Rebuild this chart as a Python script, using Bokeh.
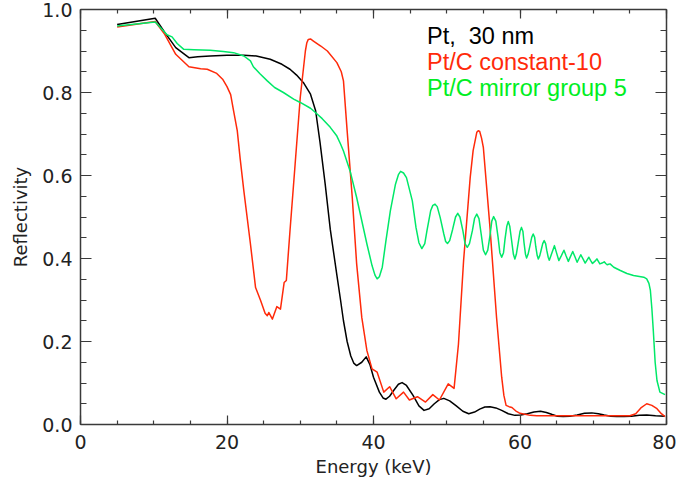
from bokeh.plotting import figure
from bokeh.models import (Range1d, LinearAxis, SingleIntervalTicker, CustomJSTickFormatter,
                          NumeralTickFormatter, Label)
from bokeh.embed import file_html
from bokeh.resources import INLINE

# ---------------- data ----------------
pt_energy = [5, 10.2, 11.5, 13, 14.8, 16, 17.7, 20, 22.3, 24, 25.9, 27.5, 28.6, 29.5, 30.5,
             31.4, 32.1, 32.7, 33.4, 34.1, 35.0, 35.5, 35.9, 36.4, 36.9, 37.3, 37.7, 38.4,
             39.0, 39.5, 40.0, 40.8, 41.3, 41.7, 42.2, 42.8, 43.4, 43.9, 44.5, 45.4, 46.2,
             46.9, 47.6, 48.3, 49.0, 49.6, 50.4, 51.3, 52.2, 53.0, 53.8, 54.5, 55.2, 55.9,
             56.7, 57.5, 58.4, 59.3, 60.1, 61.0, 61.9, 62.8, 63.6, 64.4, 65.1, 65.9, 66.8,
             67.8, 68.8, 69.8, 70.7, 71.5, 72.4, 73.2, 74.2, 75.2, 76.3, 77.3, 78.5, 79.8]
pt_refl = [0.964, 0.979, 0.945, 0.908, 0.884, 0.886, 0.888, 0.890, 0.890, 0.888, 0.880,
           0.868, 0.856, 0.842, 0.822, 0.796, 0.756, 0.680, 0.580, 0.470, 0.360, 0.300,
           0.250, 0.200, 0.165, 0.148, 0.142, 0.150, 0.163, 0.145, 0.114, 0.078, 0.064,
           0.061, 0.068, 0.083, 0.097, 0.101, 0.094, 0.070, 0.045, 0.034, 0.038, 0.050,
           0.060, 0.063, 0.057, 0.045, 0.032, 0.026, 0.030, 0.037, 0.042, 0.043, 0.040,
           0.034, 0.026, 0.022, 0.023, 0.026, 0.030, 0.032, 0.029, 0.024, 0.020, 0.019,
           0.020, 0.023, 0.027, 0.028, 0.026, 0.023, 0.020, 0.019, 0.019, 0.020, 0.022,
           0.023, 0.021, 0.020]

const_energy = [5, 10.2, 11.5, 13, 14.8, 16.4, 17.3, 18.6, 19.4, 20.0, 20.5, 20.9, 21.4,
                21.8, 22.3, 23.2, 23.9, 24.6, 25.2, 25.5, 25.7, 26.2, 26.8, 27.3, 27.8,
                28.1, 28.6, 29.3, 30.0, 30.7, 30.9, 31.1, 31.4, 31.8, 32.8, 33.7, 35.0,
                35.6, 35.9, 36.4, 37.1, 37.7, 38.4, 39.1, 39.8, 40.5, 41.4, 42.2, 43.1,
                44.1, 44.9, 46.0, 47.1, 48.1, 49.0, 50.2, 51.0, 51.6, 52.3, 53.2, 53.6,
                54.1, 54.3, 54.5, 54.75, 55.0, 55.9, 56.8, 57.5, 57.8, 58.1, 58.5, 58.9,
                59.4, 60.0, 61.4, 62.3, 75.0, 75.8, 76.5, 77.3, 78.0, 78.7, 79.3, 79.8]
const_refl = [0.958, 0.971, 0.940, 0.892, 0.862, 0.857, 0.856, 0.846, 0.832, 0.814, 0.795,
              0.756, 0.708, 0.640, 0.563, 0.435, 0.330, 0.298, 0.268, 0.262, 0.270, 0.254,
              0.284, 0.278, 0.342, 0.347, 0.467, 0.627, 0.788, 0.900, 0.920, 0.928, 0.929,
              0.924, 0.912, 0.900, 0.872, 0.850, 0.828, 0.708, 0.547, 0.387, 0.258, 0.178,
              0.134, 0.126, 0.078, 0.091, 0.062, 0.078, 0.059, 0.067, 0.054, 0.072, 0.059,
              0.098, 0.087, 0.194, 0.395, 0.595, 0.660, 0.704, 0.708, 0.706, 0.690, 0.667,
              0.475, 0.258, 0.114, 0.070, 0.046, 0.043, 0.041, 0.033, 0.027, 0.022, 0.021,
              0.021, 0.026, 0.040, 0.050, 0.046, 0.038, 0.026, 0.019]

mirror_energy = [5, 10.2, 11.0, 11.8, 12.5, 13.2, 14.1, 15.5, 17.7, 19.5, 20.9, 22.3, 23.2,
                 23.6, 24.5, 25.5, 26.5, 27.7, 29.1, 30.0, 31.4, 31.8, 33.0, 34.1, 35.0,
                 35.5, 35.9, 36.8, 37.7, 38.4, 39.1, 39.8, 40.2, 40.5, 40.8, 41.2, 41.7,
                 42.3, 43.0, 43.4, 43.7, 44.1, 44.5, 45.3, 45.8, 46.2, 46.6, 47.0, 47.3,
                 47.8, 48.1, 48.4, 48.7, 49.1, 49.6, 49.85, 50.1, 50.4, 50.8, 51.2, 51.5,
                 51.8, 52.2, 52.5, 52.8, 53.1, 53.5, 53.8, 54.1, 54.4, 54.7, 55.0, 55.3,
                 55.6, 55.9, 56.15, 56.4, 56.7, 57.0, 57.25, 57.5, 57.75, 57.95, 58.2, 58.4,
                 58.6, 58.85, 59.1, 59.3, 59.5, 59.75, 60.0, 60.2, 60.4, 60.55, 60.75, 60.9,
                 61.1, 61.35, 61.6, 61.8, 62.0, 62.15, 62.35, 62.5, 62.7, 62.9, 63.1, 63.3,
                 63.5, 63.65, 63.85, 64.0, 64.35, 64.7, 65.0, 65.3, 65.65, 66.0, 66.3, 66.6,
                 66.9, 67.2, 67.5, 67.8, 68.05, 68.3, 68.6, 68.9, 69.15, 69.4, 69.65, 69.9,
                 70.2, 70.5, 70.7, 70.9, 71.2, 71.5, 71.7, 71.9, 72.1, 72.3, 72.8, 73.7,
                 74.6, 75.5, 76.9, 77.3, 77.6, 77.8, 78.0, 78.2, 78.45, 78.7, 79.1, 79.8]
mirror_refl = [0.960, 0.970, 0.955, 0.939, 0.934, 0.918, 0.904, 0.903, 0.902, 0.899, 0.896,
               0.888, 0.876, 0.862, 0.845, 0.828, 0.812, 0.800, 0.784, 0.776, 0.762, 0.756,
               0.737, 0.716, 0.695, 0.676, 0.659, 0.611, 0.547, 0.491, 0.435, 0.383, 0.360,
               0.351, 0.356, 0.379, 0.443, 0.515, 0.579, 0.602, 0.610, 0.606, 0.595, 0.539,
               0.475, 0.438, 0.424, 0.436, 0.467, 0.515, 0.528, 0.531, 0.525, 0.499, 0.459,
               0.441, 0.436, 0.443, 0.470, 0.500, 0.509, 0.500, 0.467, 0.436, 0.427, 0.436,
               0.467, 0.497, 0.507, 0.496, 0.459, 0.420, 0.409, 0.420, 0.455, 0.490, 0.501,
               0.490, 0.452, 0.414, 0.403, 0.414, 0.446, 0.478, 0.489, 0.478, 0.444, 0.410,
               0.399, 0.410, 0.437, 0.465, 0.475, 0.465, 0.438, 0.410, 0.401, 0.410, 0.430,
               0.451, 0.459, 0.451, 0.429, 0.407, 0.399, 0.407, 0.421, 0.436, 0.443, 0.436,
               0.420, 0.403, 0.396, 0.413, 0.431, 0.413, 0.395, 0.407, 0.420, 0.406, 0.393,
               0.405, 0.417, 0.404, 0.391, 0.400, 0.409, 0.399, 0.389, 0.396, 0.403, 0.395,
               0.388, 0.393, 0.399, 0.393, 0.387, 0.389, 0.392, 0.388, 0.385, 0.386, 0.387,
               0.379, 0.371, 0.364, 0.359, 0.355, 0.351, 0.340, 0.323, 0.280, 0.226, 0.150,
               0.106, 0.078, 0.072]

series_names = ["Pt,\u00a0 30 nm", "Pt/C constant-10", "Pt/C mirror group 5"]
series_colors = ["#000000", "#ff2a0a", "#00e868"]
text_colors = ["#000000", "#ff2a0a", "#00ee22"]

# ---------------- figure ----------------
AX = "#3a3a3a"
p = figure(width=676, height=480, output_backend="svg", toolbar_location=None,
           x_range=Range1d(0, 80), y_range=Range1d(0, 1.0),
           min_border_left=80, min_border_right=10, min_border_top=9, min_border_bottom=56,
           x_axis_label="Energy (keV)", y_axis_label="Reflectivity")
p.grid.visible = False
p.background_fill_color = "white"
p.border_fill_color = "white"
p.outline_line_color = None

bottom = p.below[0]
left = p.left[0]
bottom.ticker = SingleIntervalTicker(interval=20, num_minor_ticks=4)
left.ticker = SingleIntervalTicker(interval=0.2, num_minor_ticks=4)
left.formatter = NumeralTickFormatter(format="0.0")

blank = CustomJSTickFormatter(code="return ''")
top = LinearAxis(ticker=SingleIntervalTicker(interval=20, num_minor_ticks=4), formatter=blank)
right = LinearAxis(ticker=SingleIntervalTicker(interval=0.2, num_minor_ticks=4), formatter=blank)
p.add_layout(top, "above")
p.add_layout(right, "right")

for ax in [bottom, top]:
    ax.major_tick_in = 9
    ax.major_tick_out = 0
    ax.minor_tick_in = 4
    ax.minor_tick_out = 0
for ax in [left, right]:
    ax.major_tick_in = 11
    ax.major_tick_out = 0
    ax.minor_tick_in = 6
    ax.minor_tick_out = 0
for ax in [bottom, top, left, right]:
    ax.axis_line_color = AX
    ax.axis_line_width = 1.5
    ax.major_tick_line_color = AX
    ax.minor_tick_line_color = AX
    ax.major_tick_line_width = 1.2
    ax.minor_tick_line_width = 1.2
    ax.major_label_text_font = "DejaVu Sans"
    ax.major_label_text_font_size = "19px"
    ax.major_label_text_color = "#222222"
    ax.axis_label_text_font = "DejaVu Sans"
    ax.axis_label_text_font_size = "18px"
    ax.axis_label_text_font_style = "normal"
    ax.axis_label_text_color = "#222222"

top.major_label_standoff = 0
right.major_label_standoff = 0
bottom.major_label_standoff = 10
bottom.axis_label_standoff = 4
left.major_label_standoff = 8
left.axis_label_standoff = 8

xs = [pt_energy, const_energy, mirror_energy]
ys = [pt_refl, const_refl, mirror_refl]
for x, y, c in zip(xs, ys, series_colors):
    p.line(x, y, line_color=c, line_width=1.5, line_join="round")

# legend texts
legend_y = [0.936, 0.874, 0.812]
for name, c, ly in zip(series_names, text_colors, legend_y):
    p.add_layout(Label(x=47.3, y=ly, text=name, text_color=c, text_font="Liberation Sans",
                       text_font_size="23.5px", text_baseline="alphabetic"))

open("out.html", "w").write(file_html(p, INLINE))
